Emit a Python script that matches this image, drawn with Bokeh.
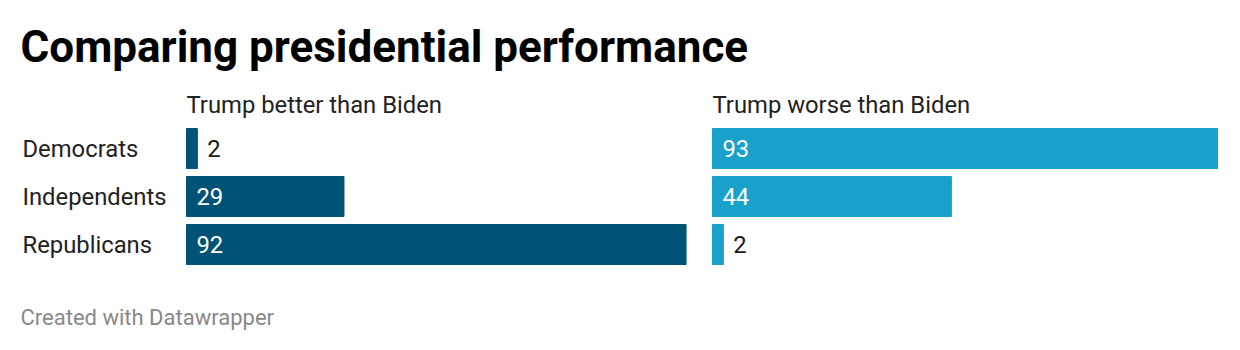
from bokeh.plotting import figure
from bokeh.models import Range1d, ColumnDataSource
from bokeh.core.properties import value
from bokeh.embed import file_html
from bokeh.resources import INLINE

# ---- data ----
title = "Comparing presidential performance"
groups = ["Democrats", "Independents", "Republicans"]
better = [2, 29, 92]
worse = [93, 44, 2]
better_label = "Trump better than Biden"
worse_label = "Trump worse than Biden"
footer = "Created with Datawrapper"

# ---- style ----
W, H = 1240, 350
PX_PER_UNIT = 5.43
LEFT0, RIGHT0 = 186, 712          # pixel where each panel's zero sits
ROW0, ROW_STEP, BAR_H = 148, 48, 40
C_DARK, C_LIGHT = "#005377", "#1aa1cb"
FONT = value("Roboto")
FS = "23.8px"

p = figure(width=W, height=H, output_backend="svg", toolbar_location=None,
           x_range=Range1d(0, W), y_range=Range1d(H, 0),
           min_border=0, outline_line_color=None)
p.axis.visible = False
p.grid.visible = False
p.background_fill_color = "white"
p.border_fill_color = "white"

p.extra_x_ranges = {
    "left": Range1d(-LEFT0 / PX_PER_UNIT, (W - LEFT0) / PX_PER_UNIT),
    "right": Range1d(-RIGHT0 / PX_PER_UNIT, (W - RIGHT0) / PX_PER_UNIT),
}
p.extra_y_ranges = {"rows": Range1d((H - ROW0) / ROW_STEP, -ROW0 / ROW_STEP)}

rows = list(range(len(groups)))
bar_h_units = BAR_H / ROW_STEP

for vals, rng, color, hdr, x0 in [(better, "left", C_DARK, better_label, LEFT0),
                                  (worse, "right", C_LIGHT, worse_label, RIGHT0)]:
    src = ColumnDataSource(dict(y=rows, v=vals, z=[0] * len(vals)))
    p.hbar(y="y", left="z", right="v", height=bar_h_units, color=color,
           source=src, x_range_name=rng, y_range_name="rows")
    inside = [v * PX_PER_UNIT >= 40 for v in vals]
    lab = ColumnDataSource(dict(
        y=rows,
        x=[0 if ins else v for v, ins in zip(vals, inside)],
        t=[str(v) for v in vals],
        c=["white" if ins else "#181818" for ins in inside],
    ))
    p.text(x="x", y="y", text="t", text_color="c", source=lab,
           x_range_name=rng, y_range_name="rows", x_offset=10,
           text_font=FONT, text_font_size=FS, text_baseline="middle",
           text_align="left")
    p.text(x=[x0], y=[104], text=[hdr], text_font=FONT, text_font_size=FS,
           text_color="#222222", text_baseline="middle", text_align="left")

p.text(x=[22] * len(groups), y=rows, text=groups, y_range_name="rows",
       text_font=FONT, text_font_size=FS, text_color="#222222",
       text_baseline="middle", text_align="left")

p.text(x=[20], y=[46], text=[title], text_font=FONT, text_font_size="44px",
       text_font_style="bold", text_color="#000000", text_baseline="middle")
p.text(x=[20], y=[317], text=[footer], text_font=FONT, text_font_size="22px",
       text_color="#888888", text_baseline="middle")

open("out.html", "w").write(file_html(p, INLINE))
